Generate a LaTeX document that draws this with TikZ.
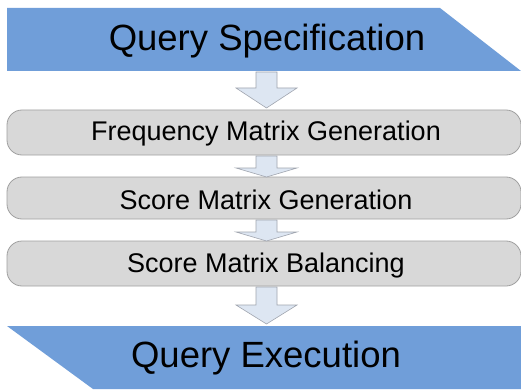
\documentclass[tikz,border=0pt]{standalone}
\usepackage{fontspec}
\setmainfont{Liberation Sans}
\definecolor{bannerblue}{RGB}{112,158,217}
\definecolor{boxgray}{RGB}{216,216,216}
\definecolor{boxline}{RGB}{160,160,160}
\definecolor{arrowfill}{RGB}{221,230,242}
\definecolor{arrowline}{RGB}{160,165,175}
\begin{document}
\begin{tikzpicture}[x=1pt,y=-1pt,
  banner/.style={fill=bannerblue,draw=none},
  stepbox/.style={fill=boxgray,draw=boxline,line width=0.8pt,rounded corners=15pt},
  flowarrow/.style={fill=arrowfill,draw=arrowline,line width=0.6pt,line join=miter},
  bigtext/.style={font=\fontsize{36.5}{40}\selectfont,text=black},
  boxtext/.style={font=\fontsize{27}{31}\selectfont,text=black}]
\useasboundingbox[fill=white] (0,0) rectangle (521,390);
% top banner
\fill[banner] (7,8) -- (440,8) -- (521,71) -- (7,71) -- cycle;
\node[bigtext] (qs) at (267,41) {Query Specification};
% boxes
\draw[stepbox] (7,110) rectangle (521,155);
\node[boxtext] (b1) at (266,134) {Frequency Matrix Generation};
\draw[stepbox] (7,177) rectangle (521,219);
\node[boxtext] (b2) at (266,200) {Score Matrix Generation};
\draw[stepbox] (7,241) rectangle (521,286);
\node[boxtext] (b3) at (266,266) {Score Matrix Balancing};
% bottom banner
\fill[banner] (7,326) -- (521,326) -- (521,389) -- (93,389) -- cycle;
\node[bigtext] (qe) at (266,358) {Query Execution};
% arrows
\newcommand{\flowarr}[3]{% top, headtop, tip
  \draw[flowarrow] (256,#1) -- (277,#1) -- (277,#2) -- (297,#2) -- (266.5,#3) -- (236,#2) -- (256,#2) -- cycle;}
\flowarr{72}{88}{108}
\flowarr{156}{168}{177}
\flowarr{220}{232}{241}
\flowarr{287}{305}{324}
\end{tikzpicture}
\end{document}
